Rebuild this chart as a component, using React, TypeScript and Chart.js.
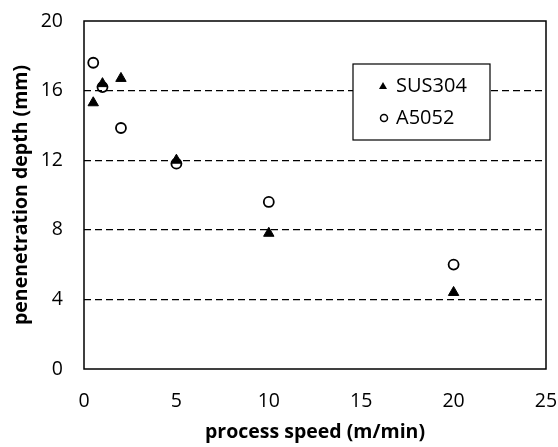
import React, { useEffect, useRef } from "react";
import { Chart, registerables } from "chart.js";

Chart.register(...registerables);

const susX = [0.5, 1, 2, 5, 10, 20];
const susY = [15.3, 16.4, 16.7, 12.0, 7.8, 4.4];
const alX = [0.5, 1, 2, 5, 10, 20];
const alY = [17.6, 16.2, 13.85, 11.8, 9.6, 6.0];
const xTicks = [0, 5, 10, 15, 20, 25];
const yTicks = [0, 4, 8, 12, 16, 20];
const seriesNames = ["SUS304", "A5052"];
const xTitle = "process speed (m/min)";
const yTitle = "penenetration depth (mm)";

const FONT = "'Open Sans', 'Liberation Sans', sans-serif";

const frameAndLegend = {
  id: "frameAndLegend",
  afterDatasetsDraw(chart: any) {
    const { ctx, chartArea } = chart;
    ctx.save();
    ctx.strokeStyle = "#000";
    ctx.lineWidth = 1.5;
    ctx.setLineDash([]);
    ctx.strokeRect(chartArea.left, chartArea.top, chartArea.right - chartArea.left, chartArea.bottom - chartArea.top);
    // legend box
    const bx = 353, by = 64, bw = 137, bh = 76;
    ctx.fillStyle = "#fff";
    ctx.fillRect(bx, by, bw, bh);
    ctx.lineWidth = 1.2;
    ctx.strokeRect(bx, by, bw, bh);
    ctx.font = `20px ${FONT}`;
    ctx.fillStyle = "#000";
    ctx.textBaseline = "middle";
    ctx.textAlign = "left";
    // triangle
    const tx = 383, ty = 86;
    ctx.beginPath();
    ctx.moveTo(tx, ty - 4);
    ctx.lineTo(tx + 4, ty + 3);
    ctx.lineTo(tx - 4, ty + 3);
    ctx.closePath();
    ctx.fill();
    ctx.fillText(seriesNames[0], 396, ty);
    const cy = 118;
    ctx.beginPath();
    ctx.arc(384, cy, 3.5, 0, Math.PI * 2);
    ctx.lineWidth = 1.5;
    ctx.stroke();
    ctx.fillText(seriesNames[1], 396, cy);
    ctx.restore();
  },
};

export default function App() {
  const ref = useRef<HTMLCanvasElement>(null);
  useEffect(() => {
    document.body.style.margin = "0";
    const ctx = ref.current!.getContext("2d")!;
    const chart = new Chart(ctx, {
      type: "scatter",
      data: {
        datasets: [
          {
            label: seriesNames[0],
            data: susX.map((x, i) => ({ x, y: susY[i] })),
            pointStyle: "triangle",
            pointRadius: 6,
            backgroundColor: "#000",
            borderColor: "#000",
            borderWidth: 1,
          },
          {
            label: seriesNames[1],
            data: alX.map((x, i) => ({ x, y: alY[i] })),
            pointStyle: "circle",
            pointRadius: 5,
            backgroundColor: "rgba(0,0,0,0)",
            borderColor: "#000",
            borderWidth: 1.8,
          },
        ],
      },
      options: {
        animation: false,
        responsive: false,
        devicePixelRatio: 1,
        layout: { padding: { left: 0, right: 12, top: 21, bottom: 0 } },
        plugins: { legend: { display: false }, tooltip: { enabled: false } },
        scales: {
          x: {
            type: "linear",
            min: 0,
            max: 25,
            afterBuildTicks: (s: any) => {
              s.ticks = xTicks.map((v) => ({ value: v }));
            },
            afterFit: (s: any) => {
              s.height = 447 - 369;
              s.paddingLeft = 0;
              s.paddingRight = 0;
              s.paddingTop = 0;
              s.paddingBottom = 0;
            },
            grid: { display: false, drawTicks: false },
            border: { display: false },
            ticks: { color: "#000", font: { family: FONT, size: 19.5 }, padding: 21, maxRotation: 0 },
            title: {
              display: true,
              text: xTitle,
              color: "#000",
              font: { family: FONT, size: 19.5, weight: "bold" },
              padding: { top: 0, bottom: 3 },
            },
          },
          y: {
            type: "linear",
            min: 0,
            max: 20,
            afterBuildTicks: (s: any) => {
              s.ticks = yTicks.map((v) => ({ value: v }));
            },
            afterFit: (s: any) => {
              s.width = 84;
              s.paddingLeft = 0;
              s.paddingRight = 0;
              s.paddingTop = 0;
              s.paddingBottom = 0;
            },
            grid: {
              drawTicks: false,
              color: (c: any) => (c.tick && (c.tick.value === 0 || c.tick.value === 20) ? "rgba(0,0,0,0)" : "#000"),
              lineWidth: 1.2,
            },
            border: { display: false, dash: [7, 4] },
            ticks: { color: "#000", font: { family: FONT, size: 19.5 }, padding: 21 },
            title: {
              display: true,
              text: yTitle,
              color: "#000",
              font: { family: FONT, size: 19.5, weight: "bold" },
              padding: { top: 10, bottom: 0 },
            },
          },
        },
      },
      plugins: [frameAndLegend],
    });
    return () => chart.destroy();
  }, []);
  return <canvas ref={ref} width={558} height={447} style={{ display: "block" }} />;
}
